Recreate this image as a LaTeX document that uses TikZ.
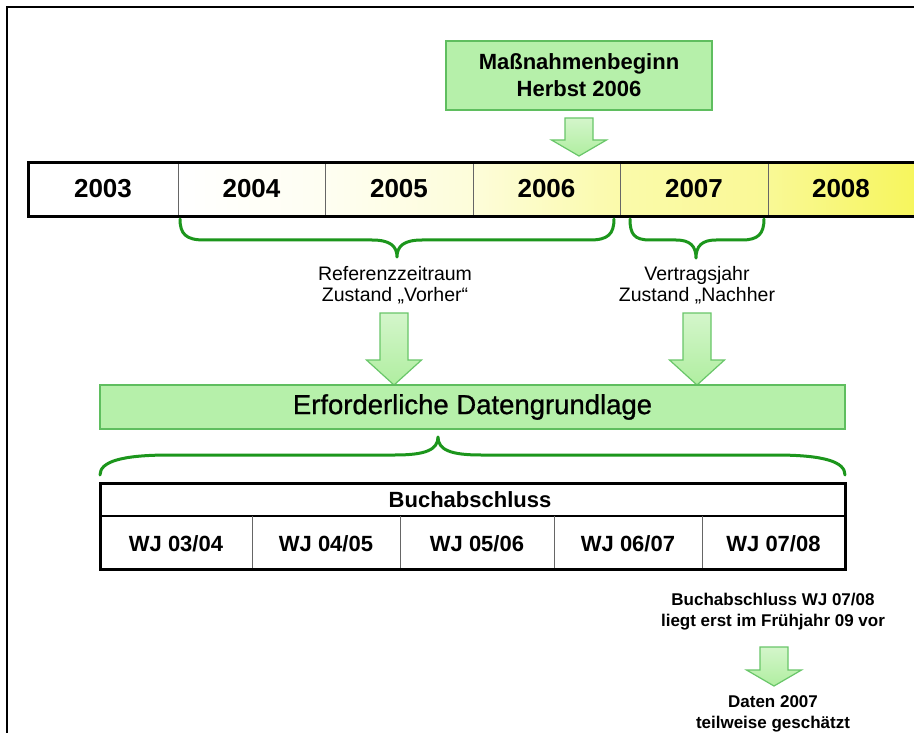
\documentclass[tikz,border=0pt]{standalone}
\usepackage{fontspec}
\setmainfont{Liberation Sans}
\newfontfamily\semibd[FakeBold=0.9]{Liberation Sans}
\definecolor{boxfill}{RGB}{182,240,170}
\definecolor{boxdraw}{RGB}{95,190,95}
\definecolor{arrfill}{RGB}{176,238,160}
\definecolor{arrdraw}{RGB}{105,198,105}
\definecolor{bracecol}{RGB}{28,150,28}
\definecolor{yel}{RGB}{246,245,85}
\newcommand\grarr[4]{%
  \draw[arrowsty] (#1-14,#2) -- (#1+14,#2) -- (#1+14,#3) -- (#1+27.5,#3) -- (#1,#4) -- (#1-27.5,#3) -- (#1-14,#3) -- cycle;}
\tikzset{
  arrowsty/.style={draw=arrdraw, line width=1.2pt, top color=arrfill!55!white, bottom color=arrfill, line join=miter},
  greenbox/.style={draw=boxdraw, line width=1.2pt, fill=boxfill, inner sep=0pt},
  bracesty/.style={draw=bracecol, line width=3pt, line cap=round, line join=round},
  yeartxt/.style={font=\bfseries\fontsize{26}{30}\selectfont, anchor=base, inner sep=0pt},
  wjtxt/.style={font=\bfseries\fontsize{22}{26}\selectfont, anchor=base, inner sep=0pt},
  labtxt/.style={font=\fontsize{19.5}{21}\selectfont, align=center, inner sep=0pt},
  smalltxt/.style={font=\bfseries\fontsize{17}{21}\selectfont, align=center, inner sep=0pt},
  sepline/.style={draw=black!60, line width=0.8pt},
  thickframe/.style={draw=black, line width=3pt}
}
\begin{document}
\begin{tikzpicture}[x=1pt,y=-1pt]
\useasboundingbox (0,0) rectangle (914,733);
\fill[white] (0,0) rectangle (914,733);
% outer frame
\draw[line width=2pt] (7,733) -- (7,7) -- (914,7);

% Massnahmenbeginn box
\node[greenbox, minimum width=266pt, minimum height=69pt, align=center,
      font=\bfseries\fontsize{22}{27}\selectfont] (mb) at (579,75.5) {Maßnahmenbeginn\\Herbst 2006};
\grarr{579}{118}{140}{156}

% timeline bar
\fill[white] (28,163) rectangle (178,217);
\shade[left color=white, right color=yel!8] (178,163) rectangle (325,217);
\shade[left color=yel!8, right color=yel!22] (325,163) rectangle (473,217);
\shade[left color=yel!22, right color=yel!50] (473,163) rectangle (620,217);
\shade[left color=yel!50, right color=yel!62] (620,163) rectangle (768,217);
\shade[left color=yel!62, right color=yel!95] (768,163) rectangle (914,217);
\foreach \xx in {178,325,473,620,768} \draw[sepline] (\xx,163) -- (\xx,217);
\draw[thickframe] (916,163) -- (28,163) -- (28,217) -- (916,217);
\node[yeartxt] (y2003) at (103,198) {2003};
\node[yeartxt] (y2004) at (251.5,198) {2004};
\node[yeartxt] (y2005) at (399,198) {2005};
\node[yeartxt] (y2006) at (546.5,198) {2006};
\node[yeartxt] (y2007) at (694,198) {2007};
\node[yeartxt] (y2008) at (841,198) {2008};

% braces below timeline
\draw[bracesty] (180,219) .. controls (180,234) and (186,240) .. (204,240) -- (372,240)
   .. controls (390,240) and (397,246) .. (397,257)
   .. controls (397,246) and (404,240) .. (422,240) -- (590,240)
   .. controls (608,240) and (614,234) .. (614,219);
\draw[bracesty] (630,219) .. controls (630,234) and (634,240) .. (650,240) -- (676,240)
   .. controls (690,240) and (696,246) .. (696,258)
   .. controls (696,246) and (702,240) .. (716,240) -- (742,240)
   .. controls (758,240) and (764,234) .. (764,219);

% labels
\node[labtxt] (ref) at (395,285) {Referenzzeitraum\\Zustand „Vorher“};
\node[labtxt] (ver) at (697,285) {Vertragsjahr\\Zustand „Nachher};
\grarr{394}{313}{360}{385}
\grarr{697}{313}{360}{385}

% Erforderliche Datengrundlage
\node[greenbox, minimum width=745pt, minimum height=44pt,
      font=\semibd\fontsize{27.5}{30}\selectfont] (edg) at (472.5,407) {Erforderliche Datengrundlage};

% lower brace
\draw[bracesty] (100,475) .. controls (100,462) and (120,455) .. (170,455) -- (395,455)
   .. controls (425,455) and (438,450) .. (438,437)
   .. controls (438,450) and (451,455) .. (481,455) -- (775,455)
   .. controls (825,455) and (845,462) .. (845,475);

% Buchabschluss table
\draw[line width=1.2pt] (100,516) -- (845,516);
\foreach \xx in {252,400,554,702} \draw[sepline] (\xx,516) -- (\xx,569);
\draw[thickframe] (100,483) rectangle (845,569);
\node[font=\bfseries\fontsize{22}{26}\selectfont, anchor=base, inner sep=0pt] (hdr) at (470,507) {Buchabschluss};
\node[wjtxt] (wj1) at (176,551) {WJ 03/04};
\node[wjtxt] (wj2) at (326,551) {WJ 04/05};
\node[wjtxt] (wj3) at (477,551) {WJ 05/06};
\node[wjtxt] (wj4) at (628,551) {WJ 06/07};
\node[wjtxt] (wj5) at (773.5,551) {WJ 07/08};

% bottom right notes
\node[smalltxt] (note1) at (773,612) {Buchabschluss WJ 07/08\\liegt erst im Frühjahr 09 vor};
\grarr{774}{647}{670}{686}
\node[smalltxt] (note2) at (773,714) {Daten 2007\\teilweise geschätzt};
\end{tikzpicture}
\end{document}
